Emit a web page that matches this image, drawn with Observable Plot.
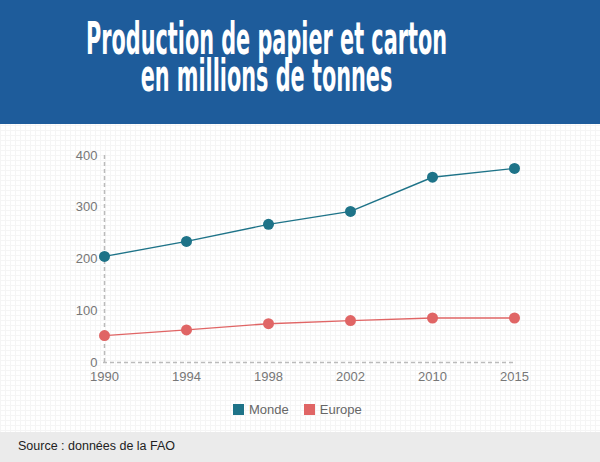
<!DOCTYPE html>
<html>
<head>
<meta charset="utf-8">
<script src="https://cdn.jsdelivr.net/npm/d3@7"></script>
<script src="https://cdn.jsdelivr.net/npm/@observablehq/plot@0.6"></script>
<style>
  html, body { margin: 0; padding: 0; }
  body { width: 600px; height: 462px; position: relative; overflow: hidden;
         font-family: "Liberation Sans", Arial, Helvetica, sans-serif;
         background-color: #fff;
         background-image: linear-gradient(#f5f5f5 1px, transparent 1px), linear-gradient(90deg, #f5f5f5 1px, transparent 1px);
         background-size: 5px 5px; }
  #banner { position: absolute; left: 0; top: 0; width: 600px; height: 124px; background: #1e5c9b; overflow: hidden; }
  #title { position: absolute; left: -233.5px; top: 21px; width: 1000px; text-align: center; }
  #title h1 { display: inline-block; margin: 0; transform-origin: 50% 0;
        font-family: "DejaVu Sans Condensed", "Liberation Sans Narrow", "Liberation Sans", sans-serif;
        font-weight: bold; font-size: 44px; line-height: 36.5px; color: #fff; text-align: center; white-space: nowrap; }
  #chart { position: absolute; left: 0; top: 124px; }
  #legend { position: absolute; left: 233px; top: 402px; display: flex; align-items: center;
            font-size: 13px; color: #666; }
  #legend .it { display: flex; align-items: center; margin-right: 15px; }
  #legend .sw { width: 11px; height: 11px; margin-right: 5px; }
  #footer { position: absolute; left: 0; top: 432px; width: 600px; height: 30px; background: #ebebeb; }
  #footer div { position: absolute; left: 18px; top: 7px; font-size: 12.5px; color: #222; }
</style>
</head>
<body>
<div id="banner">
  <div id="title"><h1 id="h">Production de papier et carton<br>en millions de tonnes</h1></div>
</div>
<div id="chart"></div>
<div id="legend"></div>
<div id="footer"><div>Source : données de la FAO</div></div>
<script>
const years = ["1990", "1994", "1998", "2002", "2010", "2015"];
const monde = [205, 234, 267, 292, 358, 375];
const europe = [52, 63, 75, 81, 86, 86];
const seriesNames = ["Monde", "Europe"];
const seriesColors = ["#1e7388", "#e06565"];
const yTicks = [0, 100, 200, 300, 400];

const data = [
  ...years.map((y, i) => ({year: y, value: monde[i], series: "Monde"})),
  ...years.map((y, i) => ({year: y, value: europe[i], series: "Europe"}))
];

const h = document.getElementById("h");
h.style.transform = `scaleX(${361 / h.getBoundingClientRect().width})`;

const chart = Plot.plot({
  width: 600,
  height: 270,
  marginLeft: 103,
  marginRight: 85,
  marginTop: 31,
  marginBottom: 32,
  style: {background: "transparent", fontFamily: "'Liberation Sans', Arial, sans-serif", fontSize: "13px"},
  x: {type: "point", domain: years, padding: 0},
  y: {domain: [0, 400]},
  color: {domain: seriesNames, range: seriesColors},
  marks: [
    Plot.ruleX([years[0]], {stroke: "#bbb", strokeDasharray: "4,3", strokeWidth: 1.5}),
    Plot.ruleY([0], {stroke: "#bbb", strokeDasharray: "4,3", strokeWidth: 1.5}),
    Plot.axisX({tickSize: 0, tickPadding: 9, label: null, fill: "#777", fontSize: 13}),
    Plot.axisY({ticks: yTicks, tickSize: 0, tickPadding: 6, label: null, fill: "#777", fontSize: 13}),
    Plot.line(data, {x: "year", y: "value", z: "series", stroke: "series", strokeWidth: 1.4}),
    Plot.dot(data, {x: "year", y: "value", fill: "series", r: 5.5})
  ]
});
document.getElementById("chart").appendChild(chart);

const legend = document.getElementById("legend");
seriesNames.forEach((n, i) => {
  const it = document.createElement("div");
  it.className = "it";
  const sw = document.createElement("div");
  sw.className = "sw";
  sw.style.background = seriesColors[i];
  const t = document.createElement("span");
  t.textContent = n;
  it.appendChild(sw); it.appendChild(t);
  legend.appendChild(it);
});
</script>
</body>
</html>
